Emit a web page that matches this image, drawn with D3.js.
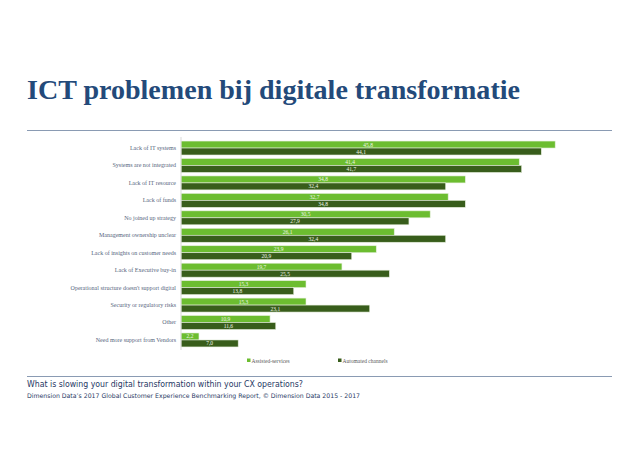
<!DOCTYPE html>
<html>
<head>
<meta charset="utf-8">
<script src="https://cdn.jsdelivr.net/npm/d3@7"></script>
<style>
  html, body { margin: 0; padding: 0; background: #fff; }
  svg { display: block; }
</style>
</head>
<body>
<div id="chart"></div>
<script>
// data
var categories = [
  "Lack of IT systems",
  "Systems are not integrated",
  "Lack of IT resource",
  "Lack of funds",
  "No joined up strategy",
  "Management ownership unclear",
  "Lack of insights on customer needs",
  "Lack of Executive buy-in",
  "Operational structure doesn't support digital",
  "Security or regulatory risks",
  "Other",
  "Need more support from Vendors"
];
var seriesNames = ["Assisted-services", "Automated channels"];
var assisted  = [45.8, 41.4, 34.8, 32.7, 30.5, 26.1, 23.9, 19.7, 15.3, 15.3, 10.9, 2.2];
var automated = [44.1, 41.7, 32.4, 34.8, 27.9, 32.4, 20.9, 25.5, 13.8, 23.1, 11.6, 7.0];
var colors = ["#6cbd30", "#385d1b"];

var svgWidth = 638, svgHeight = 452;
var svg = d3.select("#chart").append("svg")
  .attr("width", svgWidth).attr("height", svgHeight);

var rows = categories.map(function(c, i) {
  return {cat: c, vals: [assisted[i], automated[i]]};
});

// title + rules
svg.append("text")
  .attr("x", 27).attr("y", 99)
  .attr("font-family", "Liberation Serif, serif")
  .attr("font-weight", "bold")
  .attr("font-size", 28)
  .attr("textLength", 493).attr("lengthAdjust", "spacingAndGlyphs")
  .attr("fill", "#234a7a")
  .text("ICT problemen bij digitale transformatie");

svg.append("line").attr("x1", 27).attr("x2", 612).attr("y1", 130.5).attr("y2", 130.5)
  .attr("stroke", "#8a9bb3").attr("stroke-width", 1);
svg.append("line").attr("x1", 27).attr("x2", 612).attr("y1", 376.5).attr("y2", 376.5)
  .attr("stroke", "#8a9bb3").attr("stroke-width", 1);

// scales
var x = d3.scaleLinear().domain([0, 50]).range([181, 181 + 50 * 8.17]);
var y = d3.scaleBand().domain(categories).range([139.3, 348.7])
  .paddingInner(0.2).paddingOuter(0.1);
var ySub = d3.scaleBand().domain([0, 1]).range([0, y.bandwidth()]);

var g = svg.append("g");

var groups = g.selectAll(".grp").data(rows).enter().append("g")
  .attr("class", "grp")
  .attr("transform", function(d) { return "translate(0," + y(d.cat) + ")"; });

groups.selectAll("rect").data(function(d) { return d.vals; }).enter().append("rect")
  .attr("x", x(0))
  .attr("y", function(d, i) { return ySub(i); })
  .attr("width", function(d) { return x(d) - x(0); })
  .attr("height", ySub.bandwidth())
  .attr("fill", function(d, i) { return colors[i]; })
  .attr("stroke", "#e6efdc").attr("stroke-width", 0.6);

groups.selectAll("text.val").data(function(d) { return d.vals; }).enter().append("text")
  .attr("class", "val")
  .attr("x", function(d) { return (x(d) + x(0)) / 2; })
  .attr("y", function(d, i) { return ySub(i) + ySub.bandwidth() / 2 + 2; })
  .attr("text-anchor", "middle")
  .attr("font-family", "Liberation Serif, serif")
  .attr("font-size", 5.5)
  .attr("fill", "#eef5e6")
  .text(function(d) { return d.toFixed(1).replace(".", ","); });

// category axis
var yAxis = g.append("g")
  .attr("transform", "translate(" + x(0) + ",0)")
  .call(d3.axisLeft(y).tickSize(0).tickPadding(5));
yAxis.select(".domain").attr("stroke", "#d9d9d9").attr("d", "M0,137V350");
yAxis.selectAll("text")
  .attr("font-family", "Liberation Serif, serif")
  .attr("font-size", 6)
  .attr("fill", "#56657d");

// legend
var legend = svg.append("g").selectAll("g").data(seriesNames).enter().append("g")
  .attr("transform", function(d, i) { return "translate(" + (247 + i * 91) + ",361)"; });
legend.append("rect").attr("x", 0).attr("y", -2.5).attr("width", 3.5).attr("height", 3.5)
  .attr("fill", function(d, i) { return colors[i]; });
legend.append("text").attr("x", 4.5).attr("y", 1.5)
  .attr("font-family", "Liberation Serif, serif")
  .attr("font-size", 5.5)
  .attr("fill", "#595959")
  .text(function(d) { return d; });

// footer
svg.append("text").attr("x", 27).attr("y", 387)
  .attr("font-family", "DejaVu Sans, sans-serif")
  .attr("font-size", 8.2)
  .attr("textLength", 276).attr("lengthAdjust", "spacingAndGlyphs")
  .attr("fill", "#1f3864")
  .text("What is slowing your digital transformation within your CX operations?");
svg.append("text").attr("x", 27).attr("y", 398)
  .attr("font-family", "DejaVu Sans, sans-serif")
  .attr("font-size", 6.3)
  .attr("textLength", 333).attr("lengthAdjust", "spacingAndGlyphs")
  .attr("fill", "#1f3864")
  .text("Dimension Data\u2019s 2017 Global Customer Experience Benchmarking Report, \u00a9 Dimension Data 2015 - 2017");
</script>
</body>
</html>
